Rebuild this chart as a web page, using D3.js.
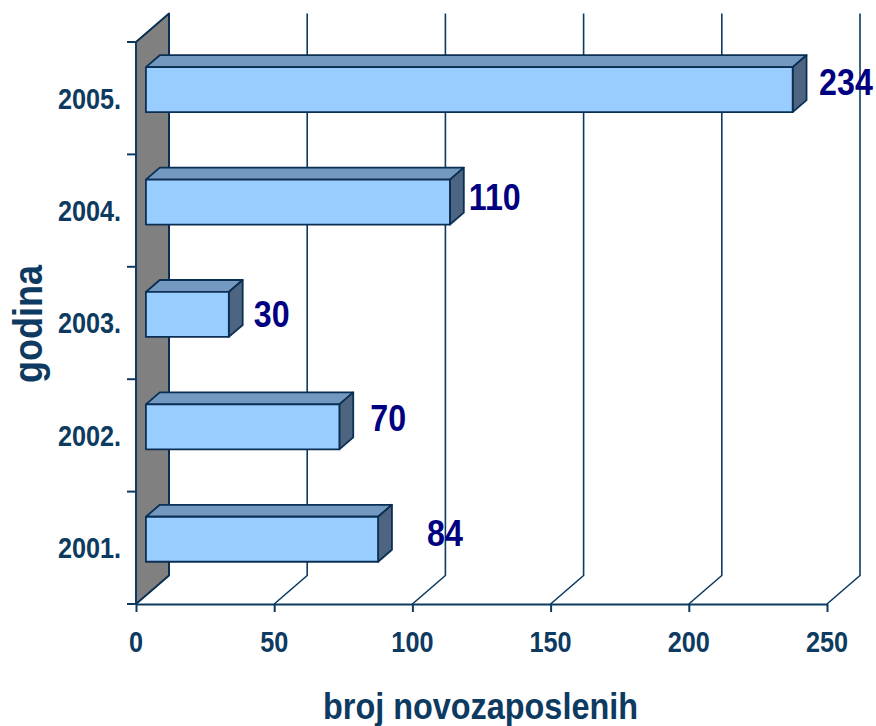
<!DOCTYPE html>
<html>
<head>
<meta charset="utf-8">
<script src="https://cdn.jsdelivr.net/npm/d3@7"></script>
<style>
  html, body { margin: 0; padding: 0; background: #ffffff; }
  svg { display: block; }
  text { font-family: "Liberation Sans", Arial, sans-serif; font-weight: bold; }
</style>
</head>
<body>
<svg id="chart" width="876" height="726"></svg>
<script>
// Data
const categories = ["2001.", "2002.", "2003.", "2004.", "2005."];
const values = [84, 70, 30, 110, 234];
const xTicks = [0, 50, 100, 150, 200, 250];
// small hand placement of each value label, [dx, dy] in px
const labelNudge = [[23, -1.5], [5, -4], [-1, 4.7], [1, -0.4], [9.4, -2.5]];

const svg = d3.select("#chart");

// Front plane of the plot and the depth vector for the 3D look
const plotLeft = 136, plotRight = 827, plotTop = 42, plotBottom = 604;
const depth = { x: 33, y: -28.5 };
const barZ0 = 0.3, barZ1 = 0.72;   // bar front / back as fraction of depth

const x = d3.scaleLinear().domain([0, 250]).range([plotLeft, plotRight]);
const y = d3.scaleBand().domain(categories).range([plotBottom, plotTop])
  .paddingInner(0.6).paddingOuter(0.3);

const ink = "#0d3a60";
const navy = "#000080";
const outline = "#0a2f52";

const pts = arr => arr.map(p => p.join(",")).join(" ");

// Side wall (gray)
svg.append("polygon")
  .attr("points", pts([
    [plotLeft, plotTop], [plotLeft + depth.x, plotTop + depth.y],
    [plotLeft + depth.x, plotBottom + depth.y], [plotLeft, plotBottom]
  ]))
  .attr("fill", "#808080").attr("stroke", outline).attr("stroke-width", 2)
  .attr("stroke-linejoin", "round");

// Gridlines on the back plane, folding down to the floor
xTicks.filter(t => t > 0).forEach(t => {
  const xf = x(t), xb = x(t) + depth.x;
  svg.append("polyline")
    .attr("points", pts([[xb, plotTop + depth.y], [xb, plotBottom + depth.y], [xf, plotBottom]]))
    .attr("fill", "none").attr("stroke", ink).attr("stroke-width", 1.6);
});

// X axis
const xAxisG = svg.append("g").attr("transform", `translate(0,${plotBottom})`)
  .call(d3.axisBottom(x).tickValues(xTicks).tickSize(8).tickSizeOuter(0).tickFormat(d3.format("d")));
xAxisG.select(".domain").attr("stroke", ink).attr("stroke-width", 2);
xAxisG.selectAll(".tick line").attr("stroke", ink).attr("stroke-width", 2);
xAxisG.selectAll(".tick text").remove();

// Y axis line with ticks at band boundaries
const step = y.step();
const yBoundaries = d3.range(categories.length + 1).map(i => plotTop + i * step);
svg.append("line").attr("x1", plotLeft).attr("x2", plotLeft)
  .attr("y1", plotTop).attr("y2", plotBottom)
  .attr("stroke", ink).attr("stroke-width", 2);
svg.selectAll(".ytick").data(yBoundaries).join("line")
  .attr("class", "ytick")
  .attr("x1", plotLeft - 9).attr("x2", plotLeft).attr("y1", d => d).attr("y2", d => d)
  .attr("stroke", ink).attr("stroke-width", 2);

// Helper for horizontally condensed bold text
const squeeze = 0.87;
function condensed(g, txt, px, py, size, anchor, color) {
  return g.append("text")
    .attr("transform", `translate(${px},${py}) scale(${squeeze},1)`)
    .attr("text-anchor", anchor)
    .attr("font-size", size)
    .attr("fill", color)
    .text(txt);
}

// Tick labels
xTicks.forEach(t => condensed(svg, String(t), x(t), 652, 29, "middle", ink));
categories.forEach(c => condensed(svg, c, 121, y(c) + y.bandwidth() / 2 + 10.4, 29, "end", ink));

// Bars (3D boxes)
const bars = svg.append("g");
const labels = svg.append("g");
categories.forEach((c, i) => {
  const v = values[i];
  const ox0 = depth.x * barZ0, oy0 = depth.y * barZ0;
  const ox1 = depth.x * barZ1, oy1 = depth.y * barZ1;
  const x0 = x(0) + ox0, x1 = x(v) + ox0;
  const y0 = y(c) + oy0, y1 = y(c) + y.bandwidth() + oy0;
  const dx = ox1 - ox0, dy = oy1 - oy0;
  const g = bars.append("g")
    .attr("stroke", outline).attr("stroke-width", 1.8).attr("stroke-linejoin", "round");
  // top face
  g.append("polygon")
    .attr("points", pts([[x0, y0], [x0 + dx, y0 + dy], [x1 + dx, y0 + dy], [x1, y0]]))
    .attr("fill", "#7399c0");
  // end face
  g.append("polygon")
    .attr("points", pts([[x1, y0], [x1 + dx, y0 + dy], [x1 + dx, y1 + dy], [x1, y1]]))
    .attr("fill", "#4d6580");
  // front face
  g.append("rect")
    .attr("x", x0).attr("y", y0).attr("width", x1 - x0).attr("height", y1 - y0)
    .attr("fill", "#99ccff");

  // value label
  const lx = x1 + dx + 30 + labelNudge[i][0];
  const ly = (y0 + y1) / 2 - 5 + labelNudge[i][1];
  condensed(labels, String(v), lx, ly + 13.2, 37, "middle", navy);
});

// Axis titles
svg.append("text")
  .attr("x", 480.5).attr("y", 719)
  .attr("text-anchor", "middle").attr("font-size", 37).attr("fill", ink)
  .attr("textLength", 315).attr("lengthAdjust", "spacingAndGlyphs")
  .text("broj novozaposlenih");

svg.append("text")
  .attr("transform", "translate(42,324) rotate(-90)")
  .attr("text-anchor", "middle").attr("font-size", 40).attr("fill", ink)
  .attr("textLength", 118).attr("lengthAdjust", "spacingAndGlyphs")
  .text("godina");
</script>
</body>
</html>
